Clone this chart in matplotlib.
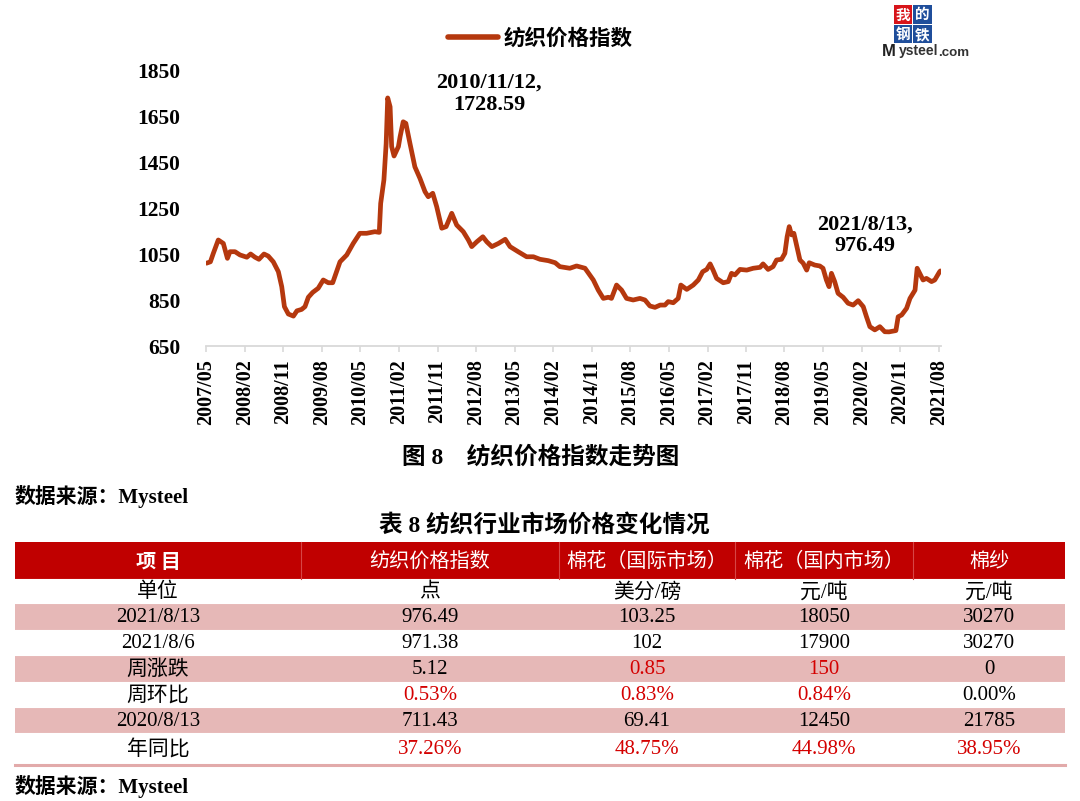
import matplotlib
matplotlib.use('Agg')
import matplotlib.pyplot as plt
import matplotlib.dates as mdates
from matplotlib.patches import Rectangle
import pandas as pd

plt.rcParams['font.family'] = ['Liberation Serif', 'Noto Sans CJK SC', 'DejaVu Sans']

# ---------------- data ----------------
idx_dates = [
    '2007-05-04', '2007-06-01', '2007-06-22', '2007-07-27', '2007-09-01', '2007-09-30', '2007-10-18', '2007-11-23', '2007-12-28',
    '2008-02-15', '2008-03-13', '2008-04-13', '2008-05-11', '2008-06-16', '2008-07-16', '2008-08-21', '2008-09-26', '2008-10-20', '2008-11-08', '2008-12-06',
    '2009-01-11', '2009-02-05', '2009-03-10', '2009-04-03', '2009-04-27', '2009-05-28', '2009-07-06', '2009-08-11', '2009-09-16', '2009-10-17', '2009-12-08',
    '2010-01-25', '2010-03-12', '2010-04-28', '2010-06-15', '2010-08-13', '2010-09-13', '2010-09-23', '2010-10-16', '2010-11-01', '2010-11-12', '2010-11-29', '2010-12-10', '2010-12-27',
    '2011-01-27', '2011-02-08', '2011-03-02', '2011-03-21', '2011-04-19', '2011-05-24', '2011-06-29', '2011-08-04', '2011-08-27', '2011-09-28', '2011-10-26', '2011-12-01',
    '2012-01-01', '2012-02-10', '2012-03-16', '2012-05-02', '2012-06-07', '2012-07-01', '2012-08-06', '2012-09-18', '2012-10-16', '2012-11-21',
    '2013-01-07', '2013-02-24', '2013-03-30', '2013-05-27', '2013-07-26', '2013-09-12', '2013-10-29', '2013-12-27',
    '2014-02-14', '2014-03-19', '2014-05-29', '2014-07-16', '2014-09-14', '2014-11-12', '2014-12-17',
    '2015-01-22', '2015-02-27', '2015-03-21', '2015-04-26', '2015-06-01', '2015-07-06', '2015-08-22', '2015-10-09', '2015-11-14', '2015-12-19',
    '2016-01-24', '2016-03-01', '2016-04-04', '2016-04-27', '2016-06-02', '2016-07-07', '2016-07-26', '2016-09-06', '2016-10-22', '2016-11-27', '2016-12-28',
    '2017-01-26', '2017-02-19', '2017-03-12', '2017-04-06', '2017-05-23', '2017-06-28', '2017-07-21', '2017-08-14', '2017-09-19', '2017-11-06', '2017-12-22',
    '2018-02-09', '2018-03-02', '2018-04-07', '2018-05-12', '2018-06-06', '2018-07-11', '2018-08-04', '2018-08-20', '2018-09-04', '2018-09-21', '2018-10-07', '2018-10-26', '2018-11-19', '2018-12-12',
    '2019-01-06', '2019-01-24', '2019-03-04', '2019-04-09', '2019-05-02', '2019-05-26', '2019-06-14', '2019-07-01', '2019-07-24', '2019-08-17', '2019-09-22', '2019-10-27', '2019-12-02',
    '2020-01-07', '2020-02-12', '2020-03-06', '2020-03-30', '2020-05-04', '2020-06-09', '2020-07-14', '2020-08-13', '2020-10-01', '2020-10-17', '2020-11-11', '2020-12-16',
    '2021-01-09', '2021-02-14', '2021-03-01', '2021-03-19', '2021-04-12', '2021-05-06', '2021-06-11', '2021-07-04', '2021-08-06', '2021-08-13',
]
idx_values = [
    1010, 1016, 1053, 1111, 1096, 1031, 1060, 1060, 1046,
    1036, 1050, 1036, 1027, 1050, 1041, 1016, 973, 908, 821, 789,
    780, 803, 809, 821, 862, 883, 901, 937, 925, 925, 1016,
    1046, 1096, 1140, 1140, 1147, 1144, 1270, 1372, 1531, 1728.59, 1690, 1517, 1476,
    1517, 1560, 1625, 1618, 1531, 1429, 1379, 1321, 1299, 1314, 1256, 1162,
    1169, 1227, 1176, 1147, 1111, 1082, 1103, 1125, 1103, 1082,
    1096, 1114, 1082, 1060, 1038, 1038, 1027, 1021,
    1012, 995, 988, 998, 988, 937, 893,
    857, 862, 857, 915, 893, 857, 850, 857, 850, 824,
    818, 828, 828, 843, 838, 857, 915, 896, 915, 937, 973,
    983, 1007, 980, 944, 925, 930, 966, 959, 983, 980, 988,
    992, 1007, 983, 995, 1024, 1027, 1053, 1125, 1169, 1133, 1140, 1089, 1024, 1010,
    980, 1012, 1002, 998, 988, 937, 908, 966, 930, 879, 862, 836, 828,
    847, 821, 777, 734, 720, 734, 712, 711.43, 717, 777, 785, 814,
    857, 893, 988, 966, 937, 944, 930, 937, 971.38, 976.49,
]
series_name = '纺织价格指数'
y_ticks = [650, 850, 1050, 1250, 1450, 1650, 1850]
x_tick_start, x_tick_end, x_tick_step = '2007-05-01', '2021-08-01', '9MS'
peak_point = ('2010-11-12', 1728.59, '2010/11/12,\n1728.59')
last_point = ('2021-08-13', 976.49, '2021/8/13,\n976.49')

fig_caption = '图 8    纺织价格指数走势图'
source_text = '数据来源：Mysteel'
table_title = '表 8 纺织行业市场价格变化情况'
table_header = ['项 目', '纺织价格指数', '棉花（国际市场）', '棉花（国内市场）', '棉纱']
row_labels = ['单位', '2021/8/13', '2021/8/6', '周涨跌', '周环比', '2020/8/13', '年同比']
col_textile = ['点', '976.49', '971.38', '5.12', '0.53%', '711.43', '37.26%']
col_cotton_intl = ['美分/磅', '103.25', '102', '0.85', '0.83%', '69.41', '48.75%']
col_cotton_dom = ['元/吨', '18050', '17900', '150', '0.84%', '12450', '44.98%']
col_yarn = ['元/吨', '30270', '30270', '0', '0.00%', '21785', '38.95%']
red_textile = [0, 0, 0, 0, 1, 0, 1]
red_cotton_intl = [0, 0, 0, 1, 1, 0, 1]
red_cotton_dom = [0, 0, 0, 1, 1, 0, 1]
red_yarn = [0, 0, 0, 0, 0, 0, 1]

# ---------------- figure ----------------
W, H = 1080, 801
fig = plt.figure(figsize=(W / 100, H / 100), dpi=100)
fig.patch.set_facecolor('white')

LINE_COLOR = '#B5380E'
AX_GRAY = '#D9D9D9'

x0 = pd.Timestamp('2007-04-28')
x1 = pd.Timestamp('2021-08-16')
ax = fig.add_axes([205.6 / W, 1 - 346 / H, (940.8 - 205.6) / W, (346 - 70) / H])
ax.set_facecolor('none')
dts = pd.to_datetime(idx_dates)
ax.plot(dts, idx_values, color=LINE_COLOR, lw=3.4, solid_joinstyle='round',
        solid_capstyle='round', label=series_name)
ax.set_xlim(x0, x1)
ax.set_ylim(y_ticks[0], y_ticks[-1])
ax.set_yticks(y_ticks)
ticks = pd.date_range(x_tick_start, x_tick_end, freq=x_tick_step)
ax.set_xticks(ticks)
ax.set_xticklabels([t.strftime('%Y/%m') for t in ticks], rotation=90,
                   fontsize=14.5, fontweight='bold', family='Liberation Serif')
for lab in ax.get_yticklabels():
    lab.set_fontsize(15.5)
    lab.set_fontweight('bold')
    lab.set_family('Liberation Serif')
for s in ['top', 'right', 'left']:
    ax.spines[s].set_visible(False)
ax.spines['bottom'].set_color(AX_GRAY)
ax.spines['bottom'].set_linewidth(1.3)
ax.tick_params(axis='x', length=4.5, width=1.2, color=AX_GRAY, pad=5)
ax.tick_params(axis='y', length=0, pad=18)

for d, v, txt, off in [(peak_point[0], peak_point[1], peak_point[2], (73, 3)),
                       (last_point[0], last_point[1], last_point[2], (-54.5, 25.5))]:
    ax.annotate(txt, xy=(pd.Timestamp(d), v), xytext=off, textcoords='offset points',
                ha='center', va='center', fontsize=16, fontweight='bold',
                family='Liberation Serif', linespacing=1.1)

leg = ax.legend(loc='center left', bbox_to_anchor=(448 / W, 1 - 38 / H),
                bbox_transform=fig.transFigure, frameon=False, borderpad=0,
                borderaxespad=0, handlelength=2.3, handletextpad=0.3,
                prop={'family': 'Noto Sans CJK SC', 'size': 15.5, 'weight': 'bold'})
leg.get_lines()[0].set_linewidth(4)

# ---------------- overlay (texts, logo, table) ----------------
ov = fig.add_axes([0, 0, 1, 1], zorder=-1)
ov.set_xlim(0, W)
ov.set_ylim(H, 0)
ov.axis('off')

# logo
ov.add_patch(Rectangle((894, 5), 18, 19, color='#D7141A', lw=0))
ov.add_patch(Rectangle((913, 5), 19, 19, color='#1F4E9B', lw=0))
ov.add_patch(Rectangle((894, 25), 18, 18, color='#1F4E9B', lw=0))
ov.add_patch(Rectangle((913, 25), 19, 18, color='#1F4E9B', lw=0))
for ch, cx, cy in [('我', 903, 14.5), ('的', 922.5, 14.5), ('钢', 903, 34), ('铁', 922.5, 34)]:
    ov.text(cx, cy, ch, color='white', fontsize=10.5, fontweight='bold',
            family='Noto Sans CJK SC', ha='center', va='center')
ov.text(882, 55.5, 'M', fontsize=12, fontweight='bold', family='Liberation Sans',
        color='#222222', ha='left', va='baseline')
ov.text(898.5, 55.5, 'ysteel', fontsize=10, fontweight='bold', family='Liberation Sans',
        color='#333333', ha='left', va='baseline')
ov.text(938, 55.5, '.com', fontsize=9.6, fontweight='bold', family='Liberation Sans',
        color='#333333', ha='left', va='baseline')

# caption & source
ov.text(402, 457, fig_caption, fontsize=17, fontweight='bold', ha='left', va='center')
ov.text(15, 496, source_text, fontsize=15, fontweight='bold', ha='left', va='center')
ov.text(544, 525, table_title, fontsize=17, fontweight='bold', ha='center', va='center')
ov.text(15, 787, source_text, fontsize=15, fontweight='bold', ha='left', va='center')

# table
col_x = [15, 301, 559, 735, 913, 1065]
row_y = [542, 579, 603, 630, 655, 682, 707, 733, 763]
PINK = '#E6B8B7'
RED = '#C00000'
TXT_RED = '#D40000'
fills = [RED, 'white', PINK, 'white', PINK, 'white', PINK, 'white']
for i, fc in enumerate(fills):
    ov.add_patch(Rectangle((col_x[0], row_y[i]), col_x[-1] - col_x[0], row_y[i + 1] - row_y[i],
                           facecolor=fc, edgecolor='none'))
for i in range(1, len(row_y) - 1):
    ov.plot([col_x[0], col_x[-1]], [row_y[i], row_y[i]], color='white', lw=0.8)
for xc in col_x[1:-1]:
    ov.plot([xc, xc], [row_y[0], row_y[1]], color='#D64545', lw=0.8)
ov.plot([col_x[0], col_x[-1]], [row_y[-1] + 1.5, row_y[-1] + 1.5], color='#E2AAAA', lw=2.2)

for j, h in enumerate(table_header):
    ov.text((col_x[j] + col_x[j + 1]) / 2, (row_y[0] + row_y[1]) / 2 + 1, h,
            color='white', fontsize=14.5, family='Noto Sans CJK SC',
            ha='center', va='center', fontweight='bold' if j == 0 else 'normal')

columns = [col_textile, col_cotton_intl, col_cotton_dom, col_yarn]
reds = [red_textile, red_cotton_intl, red_cotton_dom, red_yarn]
for i, lab in enumerate(row_labels):
    cy = (row_y[i + 1] + row_y[i + 2]) / 2 + 1.5
    ov.text((col_x[0] + col_x[1]) / 2, cy, lab, fontsize=15, ha='center', va='center',
            color='black')
    for j in range(4):
        ov.text((col_x[j + 1] + col_x[j + 2]) / 2, cy, columns[j][i], fontsize=15,
                ha='center', va='center',
                color=TXT_RED if reds[j][i] else 'black')

fig.savefig('out.png', dpi=100, facecolor='white')
